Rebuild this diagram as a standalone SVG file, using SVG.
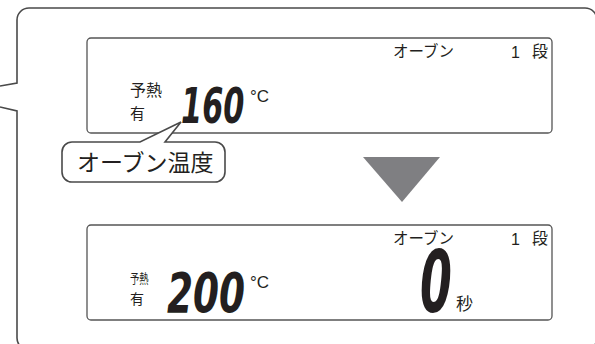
<svg xmlns="http://www.w3.org/2000/svg" width="595" height="344" viewBox="0 0 595 344">
<style>
.frame{fill:#fff;stroke:#4a4a4a;stroke-width:1.6}
.disp{fill:#fff;stroke:#555;stroke-width:1.3}
.jp{font-family:"Noto Sans CJK JP","Noto Sans",sans-serif;fill:#231f20}
.lat{font-family:"Liberation Sans","DejaVu Sans",sans-serif;fill:#231f20}
.seg{font-family:"DejaVu Sans",sans-serif;font-weight:bold;font-style:italic;fill:#231f20}
</style>
<g id="outer-callout">
<path class="frame" d="M0,107 L17,111 L17,338 A12,12 0 0 0 29,350 L585,350 A12,12 0 0 0 597,338 L597,20 A12,12 0 0 0 585,8 L29,8 A12,12 0 0 0 17,20 L17,83 L0,86"/>
</g>
<g id="display-top">
<rect class="disp" x="87" y="38" width="465" height="95" rx="4"/>
<text class="jp" x="393" y="57" font-size="15.5">オーブン</text>
<text class="lat" x="511" y="58" font-size="16">1</text>
<text class="jp" x="532" y="57" font-size="16">段</text>
<text class="jp" x="130" y="96" font-size="16">予熱</text>
<text class="jp" x="130" y="119" font-size="15">有</text>
<text class="seg" transform="translate(181,123) scale(0.62,1)" x="0" y="0" font-size="49">160</text>
<text class="lat" x="250" y="102" font-size="17">°C</text>
</g>
<g id="display-bottom">
<rect class="disp" x="87" y="225" width="465" height="95" rx="4"/>
<text class="jp" x="393" y="244" font-size="15.5">オーブン</text>
<text class="lat" x="511" y="245" font-size="16">1</text>
<text class="jp" x="532" y="244" font-size="16">段</text>
<text class="jp" transform="translate(130,283) scale(0.72,1)" x="0" y="0" font-size="13">予熱</text>
<text class="jp" x="130" y="304" font-size="14">有</text>
<text class="seg" transform="translate(167,312) scale(0.68,1)" x="0" y="0" font-size="55">200</text>
<text class="lat" x="250" y="288" font-size="17">°C</text>
<text class="seg" transform="translate(420,312) scale(0.54,1)" x="0" y="0" font-size="85">0</text>
<text class="jp" x="456" y="310" font-size="17">秒</text>
</g>
<g id="arrow-down">
<polygon points="363,157 440,157 402,202" fill="#7f7f82"/>
</g>
<g id="connectors">
<g id="label-oven-temp">
<path class="frame" stroke-width="1.3" d="M72,142 L140,142 L181,122 L165,142 L215,142 A10,10 0 0 1 225,152 L225,172 A10,10 0 0 1 215,182 L72,182 A10,10 0 0 1 62,172 L62,152 A10,10 0 0 1 72,142 Z"/>
<text class="jp" x="77" y="171" font-size="23">オーブン温度</text>
</g>
</g>
</svg>
